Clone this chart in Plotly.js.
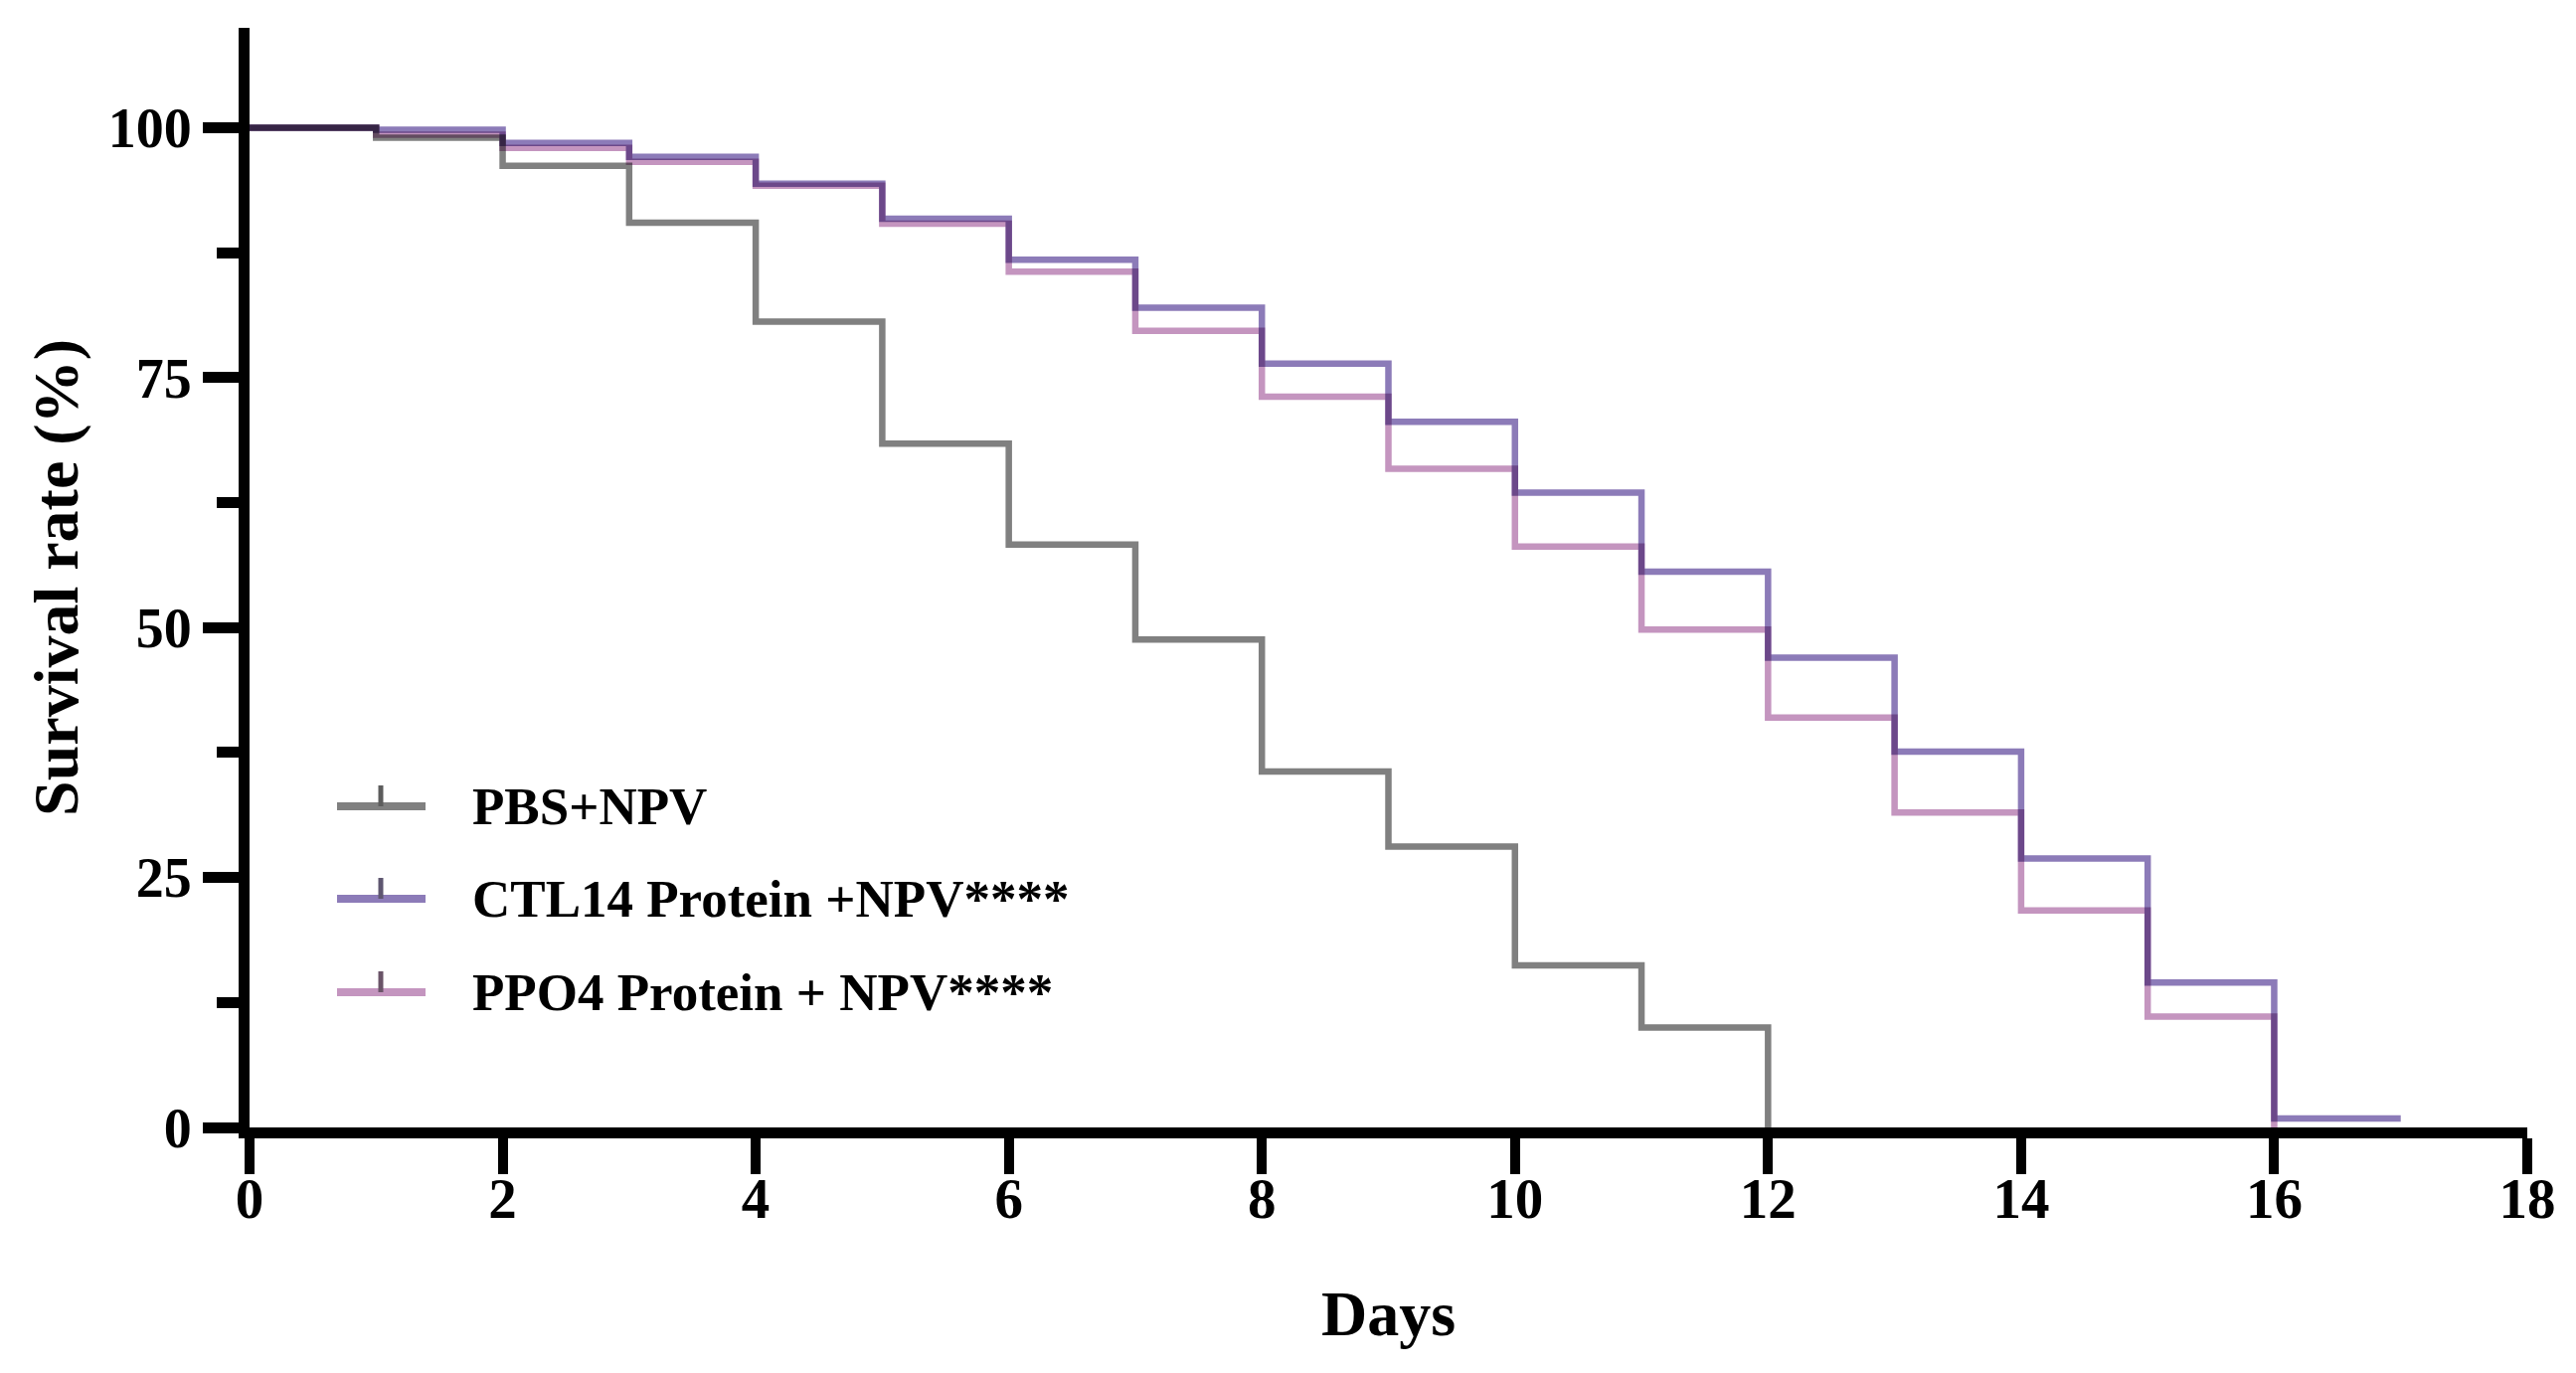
<html>
<head>
<script src="https://cdn.plot.ly/plotly-3.0.1.min.js"></script>
<style>
  body { margin: 0; background: #ffffff; }
  /* overlapping curves darken each other like the original figure */
  #survival .scatterlayer path.js-line { mix-blend-mode: multiply; }
</style>
</head>
<body>
<div id="survival"></div>
<script>
// Kaplan-Meier style step curves (survival rate, %)
var pbsDays = [0, 1, 2, 3, 4, 5, 6, 7, 8, 9, 10, 11, 12];
var pbsRate = [100, 99.0, 96.2, 90.5, 80.6, 68.4, 58.3, 48.8, 35.6, 28.1, 16.2, 10.0, 0];

var ctlDays = [0, 1, 2, 3, 4, 5, 6, 7, 8, 9, 10, 11, 12, 13, 14, 15, 16, 17];
var ctlRate = [100, 99.8, 98.5, 97.1, 94.4, 90.9, 86.8, 82.0, 76.4, 70.6, 63.5, 55.6, 47.0, 37.6, 26.9, 14.5, 0.9, 0.9];

var ppoDays = [0, 1, 2, 3, 4, 5, 6, 7, 8, 9, 10, 11, 12, 13, 14, 15, 16];
var ppoRate = [100, 99.3, 98.0, 96.6, 94.2, 90.4, 85.6, 79.7, 73.1, 65.9, 58.1, 49.8, 41.0, 31.5, 21.7, 11.1, 0];

var seriesNames = ["PBS+NPV", "CTL14 Protein +NPV****", "PPO4 Protein + NPV****"];
var seriesColors = ["#808080", "#8c7bb8", "#c495bf"];
var tickColors = ["#5c5c5c", "#5e5670", "#6a5468"];

var xTicks = [0, 2, 4, 6, 8, 10, 12, 14, 16, 18];
var yTicks = [0, 25, 50, 75, 100];

var W = 2591, H = 1381;
var M = { l: 251, r: 49, t: 28, b: 247 };
var FONT = "Liberation Serif, Times New Roman, serif";

function stepTrace(x, y, i) {
  return {
    x: x, y: y, type: 'scatter', mode: 'lines',
    line: { shape: 'hv', color: seriesColors[i], width: 6.5 },
    name: seriesNames[i], showlegend: false, cliponaxis: false,
    hoverinfo: 'x+y+name'
  };
}

var data = [
  stepTrace(pbsDays, pbsRate, 0),
  stepTrace(ctlDays, ctlRate, 1),
  stepTrace(ppoDays, ppoRate, 2)
];

// hand-built legend (long line with a small censor tick), pixel -> paper
function px(xp) { return (xp - M.l) / (W - M.l - M.r); }
function py(yp) { return 1 - (yp - M.t) / (H - M.t - M.b); }

var legendRows = [811, 904, 998];
var shapes = [];
var annotations = [];
for (var i = 0; i < seriesNames.length; i++) {
  var yr = legendRows[i];
  shapes.push({
    type: 'line', xref: 'paper', yref: 'paper',
    x0: px(339), x1: px(428), y0: py(yr), y1: py(yr),
    line: { color: seriesColors[i], width: 8 }
  });
  shapes.push({
    type: 'line', xref: 'paper', yref: 'paper',
    x0: px(383), x1: px(383), y0: py(yr - 21), y1: py(yr),
    line: { color: tickColors[i], width: 5 }
  });
  annotations.push({
    xref: 'paper', yref: 'paper', x: px(473), y: py(yr),
    xanchor: 'left', yanchor: 'middle', showarrow: false,
    text: seriesNames[i],
    font: { family: FONT, size: 53, color: '#000000', weight: 'bold' }
  });
}

var layout = {
  width: W, height: H,
  margin: M,
  paper_bgcolor: '#ffffff', plot_bgcolor: '#ffffff',
  font: { family: FONT, color: '#000000', weight: 'bold' },
  xaxis: {
    range: [0, 18], tickvals: xTicks, ticktext: xTicks.map(String),
    showgrid: false, zeroline: false,
    showline: true, linecolor: '#000000', linewidth: 11,
    ticks: 'outside', ticklen: 36, tickwidth: 10, tickcolor: '#000000',
    ticklabelstandoff: -24,
    tickfont: { family: FONT, size: 57, weight: 'bold' },
    title: { text: 'Days', standoff: 66, font: { family: FONT, size: 64, weight: 'bold' } }
  },
  yaxis: {
    range: [0, 110], tickvals: yTicks, ticktext: yTicks.map(String),
    showgrid: false, zeroline: false,
    showline: true, linecolor: '#000000', linewidth: 11,
    ticks: 'outside', ticklen: 36, tickwidth: 11, tickcolor: '#000000',
    minor: { tickvals: [12.5, 37.5, 62.5, 87.5], ticks: 'outside', ticklen: 22, tickwidth: 11, tickcolor: '#000000' },
    tickfont: { family: FONT, size: 56, weight: 'bold' },
    title: { text: 'Survival rate (%)', standoff: 14, font: { family: FONT, size: 64, weight: 'bold' } }
  },
  shapes: shapes,
  annotations: annotations,
  showlegend: false
};

Plotly.newPlot('survival', data, layout, { displayModeBar: false, staticPlot: true });
</script>
</body>
</html>
